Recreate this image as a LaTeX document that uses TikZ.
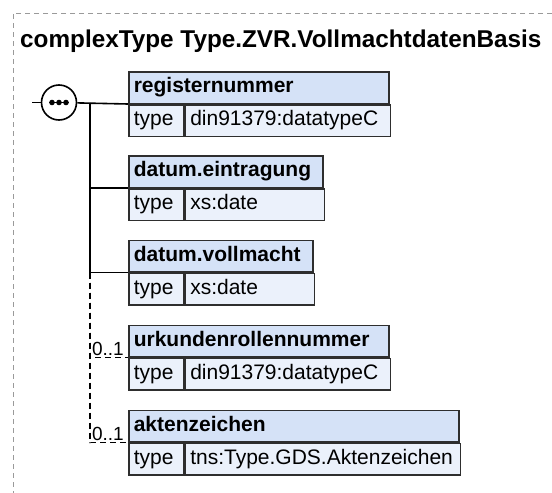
\documentclass[tikz,border=0pt]{standalone}
\usepackage{fontspec}
\setmainfont{Liberation Sans}
\usepackage{tikz}
\usetikzlibrary{positioning,calc}
\definecolor{hdrblue}{HTML}{D5E2F7}
\definecolor{rowblue}{HTML}{EBF1FB}
\definecolor{edge}{HTML}{2E2E2E}
\definecolor{framegray}{HTML}{9A9A9A}
\tikzset{
  boxbase/.style={draw=edge,line width=1.5pt,anchor=north west,inner xsep=5pt,inner ysep=0pt,
                  minimum height=31.5pt,align=left,text height=15pt,text depth=4.5pt},
  hdr/.style={boxbase,fill=hdrblue,font=\fontsize{21}{24}\selectfont\bfseries},
  tcell/.style={boxbase,fill=rowblue,font=\fontsize{21}{24}\selectfont,text width=45pt},
  vcell/.style={boxbase,fill=rowblue,font=\fontsize{21}{24}\selectfont},
  seqc/.style={circle,draw=black,line width=1.6pt,fill=white,minimum size=35pt,inner sep=0pt},
  conn/.style={draw=black,line width=1.6pt},
  opt/.style={conn,dash pattern=on 6pt off 4pt},
  occ/.style={anchor=south east,inner xsep=4pt,inner ysep=1.5pt,font=\fontsize{19}{22}\selectfont},
  frame/.style={draw=framegray,line width=1pt,dash pattern=on 5pt off 4pt},
  title/.style={anchor=base west,inner sep=0pt,font=\fontsize{24.3}{28}\selectfont\bfseries},
}
\begin{document}
\begin{tikzpicture}[x=1pt,y=-1pt]
  \useasboundingbox (0,0) rectangle (552,493);
  \draw[frame] (552,13) -- (13,13) -- (13,493);
  \node[title] (ttl) at (20,47) {complexType Type.ZVR.VollmachtdatenBasis};

  % elements
  \node[hdr,text width=250pt] (reg) at (128,71) {registernummer};
  \node[tcell] (regT) at (reg.south west) {type};
  \node[vcell,text width=195pt] (regV) at (regT.north east) {din91379:datatypeC};

  \node[hdr,text width=184pt] (ein) at (128,155) {datum.eintragung};
  \node[tcell] (einT) at (ein.south west) {type};
  \node[vcell,text width=129pt] (einV) at (einT.north east) {xs:date};

  \node[hdr,text width=174pt] (vol) at (128,239.5) {datum.vollmacht};
  \node[tcell] (volT) at (vol.south west) {type};
  \node[vcell,text width=119pt] (volV) at (volT.north east) {xs:date};

  \node[hdr,text width=250pt] (urk) at (128,324.5) {urkundenrollennummer};
  \node[tcell] (urkT) at (urk.south west) {type};
  \node[vcell,text width=195pt] (urkV) at (urkT.north east) {din91379:datatypeC};

  \node[hdr,text width=320pt] (akt) at (128,409.5) {aktenzeichen};
  \node[tcell] (aktT) at (akt.south west) {type};
  \node[vcell,text width=265pt] (aktV) at (aktT.north east) {tns:Type.GDS.Aktenzeichen};

  % sequence
  \coordinate (in) at (32,102.5);
  \node[seqc] (seq) at (59,102.5) {};
  \draw[conn] (in) -- (seq);
  \draw[conn] (seq) -- (reg.south west);
  \draw[line width=1.6pt] ($(seq.center)+(-10,0)$) -- ($(seq.center)+(10,0)$);
  \foreach \dx in {-7,0,7}
    \fill ($(seq.center)+(\dx,0)$) circle (2.8pt);

  \coordinate (bus) at (90,102.5);
  \draw[conn] (bus) |- (ein.south west);
  \draw[conn] (bus) |- (vol.south west);
  \draw[opt] (bus |- vol.south west) |- (urk.south west);
  \draw[opt] (bus |- vol.south west) |- (akt.south west);

  \node[occ] (urkO) at (urk.south west) {0..1};
  \node[occ] (aktO) at (akt.south west) {0..1};
\end{tikzpicture}
\end{document}
